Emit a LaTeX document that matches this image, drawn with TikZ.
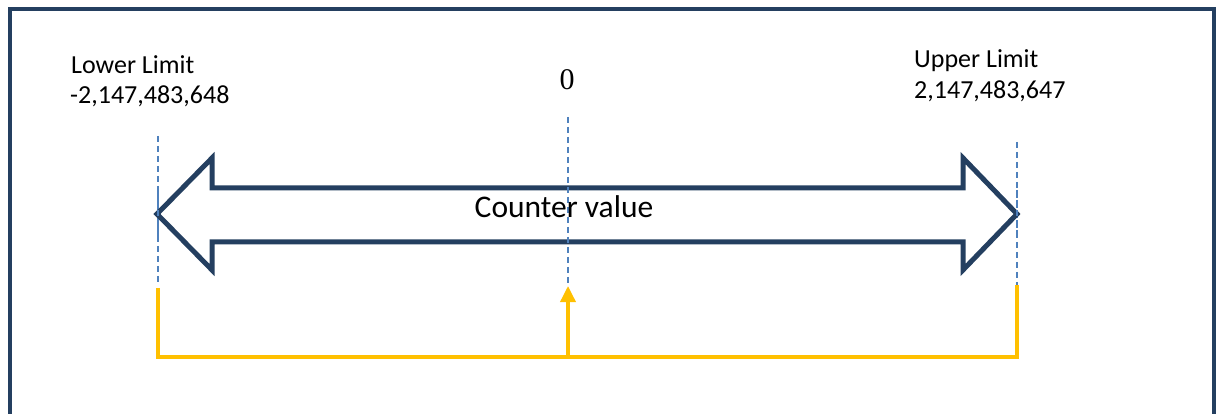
\documentclass[tikz,border=0pt]{standalone}
\usepackage{fontspec}
\setmainfont{Carlito}
\newfontfamily\zerofont{Liberation Serif}
\usetikzlibrary{arrows.meta}
\definecolor{navy}{HTML}{243F60}
\definecolor{guide}{HTML}{4F81BD}
\definecolor{gold}{HTML}{FFC000}
\tikzset{
  framestyle/.style={draw=navy, line width=4.5pt},
  bigarrow/.style={draw=navy, line width=5pt, line join=miter, fill=white},
  guideline/.style={draw=guide, line width=1.8pt, dash pattern=on 6pt off 4pt},
  goldline/.style={draw=gold, line width=3.5pt},
  lbl/.style={inner sep=0pt, font=\fontsize{26}{31}\selectfont, align=left},
}
\begin{document}
\begin{tikzpicture}[x=1pt,y=-1pt]
\useasboundingbox (0,0) rectangle (1216,414);
% frame
\draw[framestyle] (10,430) -- (10,9) -- (1214,9) -- (1214,430);
% named points
\coordinate (lTop) at (158,136);
\coordinate (lBot) at (158,285);
\coordinate (mTop) at (568,117);
\coordinate (mBot) at (568,286);
\coordinate (rTop) at (1017,142);
\coordinate (rBot) at (1017,285);
\coordinate (lY) at (158,288);
\coordinate (lC) at (158,357);
\coordinate (mC) at (568,357);
\coordinate (rC) at (1017,357);
\coordinate (rY) at (1017,285);
% guide lines
\draw[guideline] (lTop) -- (lBot);
\draw[guideline] (rTop) -- (rBot);
% big double arrow
\draw[bigarrow] (157,214) -- (212,158) -- (212,188) -- (963,188) -- (963,158)
  -- (1017,214) -- (963,270) -- (963,242) -- (212,242) -- (212,270) -- cycle;
% guide lines over the arrow
\draw[guideline] (158,190) -- (158,238);
\draw[guideline] (mTop) -- (mBot);
\draw[guideline] (1017,190) -- (1017,238);
\node[inner sep=0pt, font=\fontsize{31.5}{36}\selectfont, anchor=base] (cv) at (564,218) {Counter value};
% labels
\node[lbl, anchor=base west] (lower) at (71,74) {Lower Limit};
\node[lbl, anchor=base west] (lowerv) at (70,104) {-2,147,483,648};
\node[lbl, anchor=base west] (upper) at (914,68) {Upper Limit};
\node[lbl, anchor=base west] (upperv) at (914,99) {2,147,483,647};
\node[inner sep=0pt, font=\zerofont\fontsize{30}{36}\selectfont, anchor=base] (zero) at (567,90) {0};
% gold bracket
\draw[goldline, line join=miter] (lY) -- (lC) -- (rC) -- (rY);
\draw[goldline, -{Triangle[width=15pt,length=16pt]}] (mC) -- (mBot);
\end{tikzpicture}
\end{document}
